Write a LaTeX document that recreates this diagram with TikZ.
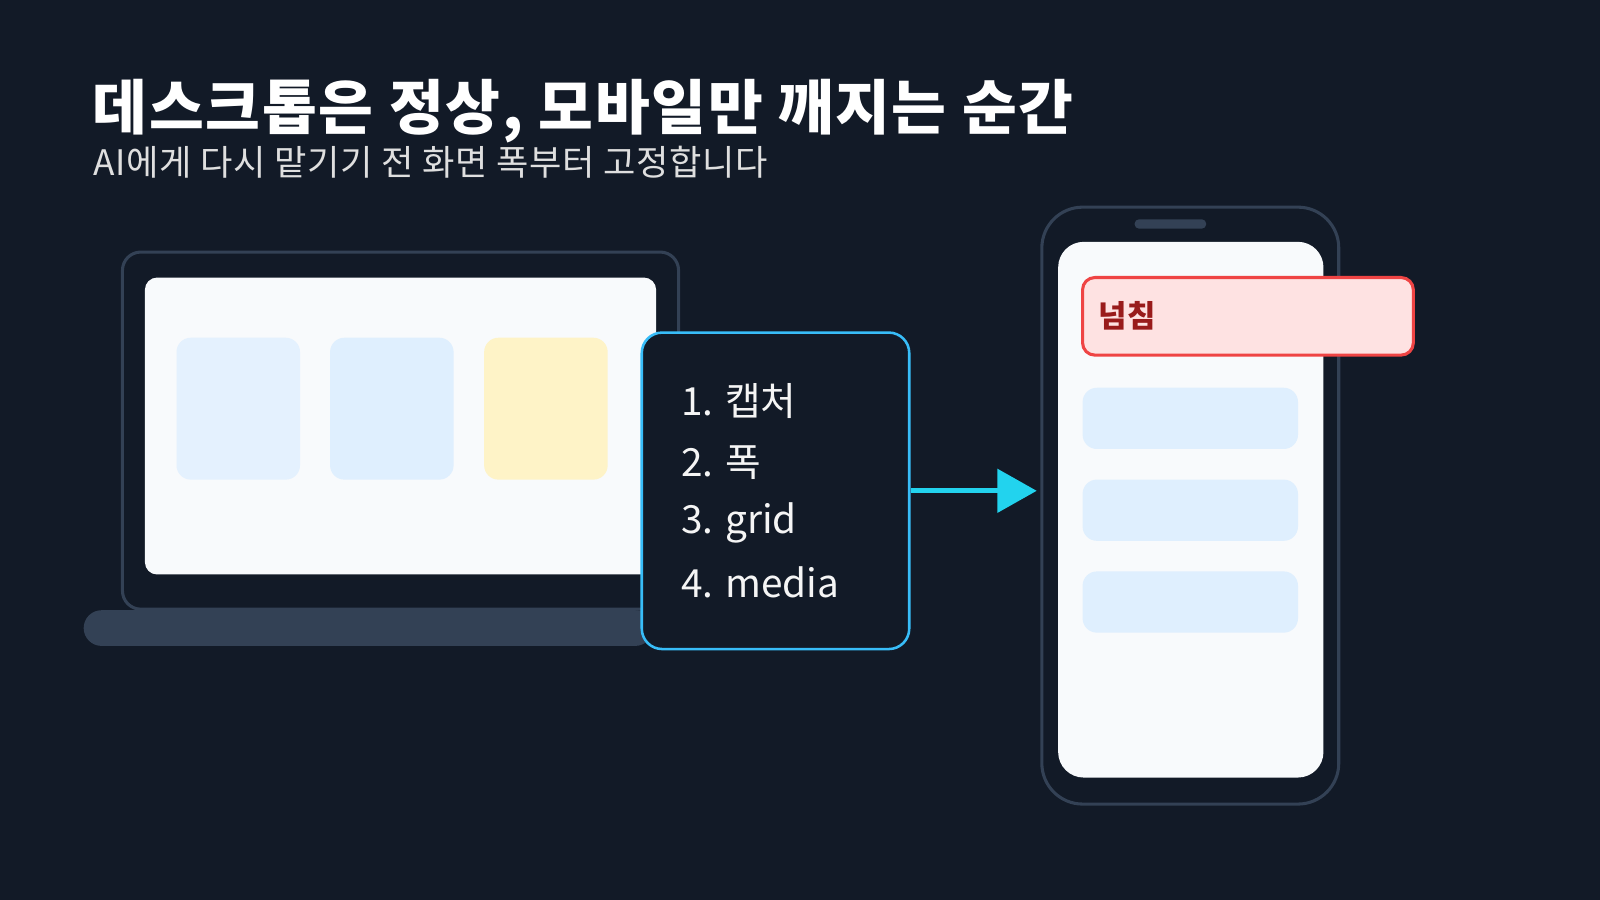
\documentclass[tikz,border=0pt]{standalone}
\usepackage{fontspec}
\newfontfamily\kr{Noto Sans CJK KR}
\usetikzlibrary{positioning,calc,arrows.meta}
\definecolor{bgnavy}{HTML}{121A27}
\definecolor{framegray}{HTML}{334155}
\definecolor{paper}{HTML}{F8FAFC}
\definecolor{lightblue}{HTML}{DFEFFE}
\definecolor{lightyellow}{HTML}{FEF3C7}
\definecolor{skyline}{HTML}{38BDF8}
\definecolor{cyanarrow}{HTML}{22D3EE}
\definecolor{warnfill}{HTML}{FEE2E2}
\definecolor{warnline}{HTML}{EF4444}
\definecolor{warntext}{HTML}{991B1B}
\tikzset{
  card/.style={rounded corners=14*0.2845pt, draw=none},
  frame/.style={draw=framegray, line width=3*0.2845pt, fill=bgnavy},
  listitem/.style={anchor=west, text=white!92!gray, font=\kr\fontsize{10.8}{13}\selectfont, inner sep=0pt},
}
\begin{document}
\begin{tikzpicture}[x=0.01cm,y=-0.01cm]
\fill[bgnavy] (0,0) rectangle (1568,882);
\useasboundingbox (0,0) rectangle (1568,882);

% TITLE

\node[anchor=base west, inner sep=0pt, text=white, font=\kr\bfseries\fontsize{16.6}{19}\selectfont\addfontfeature{LetterSpace=3}] (title) at (90,127) {데스크톱은 정상, 모바일만 깨지는 순간};
\node[anchor=base west, inner sep=0pt, text=white!75!gray, font=\kr\fontsize{9.8}{12}\selectfont\addfontfeature{LetterSpace=2}] (subtitle) at (91,172) {AI에게 다시 맡기기 전 화면 폭부터 고정합니다};

% LAPTOP

\fill[framegray, rounded corners=17.5*0.2845pt] (82,598) rectangle (640,633);
\draw[frame, rounded corners=18*0.2845pt] (120,247) rectangle (665,597);
\fill[paper, rounded corners=12*0.2845pt] (142,272) rectangle (643,563);

\node[card, fill=lightblue!85, minimum width=121*0.2845pt, minimum height=139*0.2845pt] (c1) at (233.5,400.5) {};
\node[card, fill=lightblue, minimum width=121*0.2845pt, minimum height=139*0.2845pt] (c2) at (384,400.5) {};
\node[card, fill=lightyellow, minimum width=121*0.2845pt, minimum height=139*0.2845pt] (c3) at (535,400.5) {};

% CHECKLIST

\node[draw=skyline, fill=bgnavy, line width=2.5*0.2845pt, rounded corners=20*0.2845pt,
      minimum width=262*0.2845pt, minimum height=310*0.2845pt] (list) at (760,481) {};
\node[listitem] (s1) at (667,393) {1. 캡처};
\node[listitem] (s2) at (667,453) {2. 폭};
\node[listitem] (s3) at (667,512) {3. grid};
\node[listitem] (s4) at (667,571) {4. media};

% PHONE

\draw[frame, rounded corners=40*0.2845pt] (1021,203) rectangle (1312,788);
\fill[framegray, rounded corners=4*0.2845pt] (1112,215) rectangle (1182,224);
\fill[paper, rounded corners=25*0.2845pt] (1037,237) rectangle (1297,762);
\coordinate (phoneW) at (1016,481);

\node[card, fill=lightblue, minimum width=211*0.2845pt, minimum height=60*0.2845pt] (b1) at (1166.5,410) {};
\node[card, fill=lightblue, minimum width=211*0.2845pt, minimum height=60*0.2845pt] (b2) at (1166.5,500) {};
\node[card, fill=lightblue, minimum width=211*0.2845pt, minimum height=60*0.2845pt] (b3) at (1166.5,590) {};

\node[draw=warnline, fill=warnfill, line width=3*0.2845pt, rounded corners=12*0.2845pt,
      minimum width=324*0.2845pt, minimum height=76*0.2845pt] (over) at (1223,310) {};
\node[anchor=west, inner sep=0pt, text=warntext, font=\kr\bfseries\fontsize{8.6}{11}\selectfont] (overtxt) at (1076,309) {넘침};

% ARROW

\draw[cyanarrow, line width=5*0.2845pt, -{Triangle[length=11pt,width=12pt]}] (list.east) -- (phoneW);

\end{tikzpicture}
\end{document}
